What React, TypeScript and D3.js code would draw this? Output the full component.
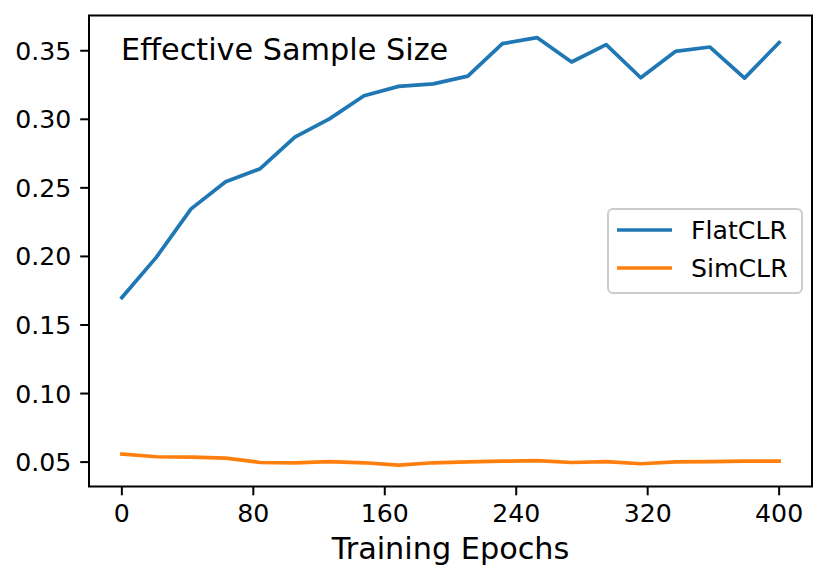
import React from "react";
import * as d3 from "d3";

const epochs: number[] = d3.range(20).map((i) => (400 * i) / 19);
const flatCLR: number[] = [
  0.1700, 0.1995, 0.2347, 0.2545, 0.2640, 0.2870, 0.3003, 0.3172, 0.3240, 0.3258,
  0.3315, 0.3552, 0.3596, 0.3418, 0.3545, 0.3303, 0.3495, 0.3527, 0.3300, 0.3560,
];
const simCLR: number[] = [
  0.0558, 0.0539, 0.0536, 0.0529, 0.0497, 0.0495, 0.0504, 0.0495, 0.0478, 0.0495,
  0.0502, 0.0507, 0.0510, 0.0497, 0.0504, 0.0488, 0.0502, 0.0504, 0.0507, 0.0507,
];
const xTicks: number[] = [0, 80, 160, 240, 320, 400];
const yTicks: number[] = [0.05, 0.1, 0.15, 0.2, 0.25, 0.3, 0.35];
const seriesNames: string[] = ["FlatCLR", "SimCLR"];
const seriesColors: string[] = ["#1f77b4", "#ff7f0e"];
const title = "Effective Sample Size";
const xLabel = "Training Epochs";

const W = 830;
const H = 581;
const L = 89, R = 812, T = 15.5, B = 486.5;
const FONT = "'DejaVu Sans', sans-serif";

export default function App() {
  const x = d3.scaleLinear().domain([-20, 420]).range([L, R]);
  const yMin = 0.0322, yMax = 0.3757;
  const y = d3.scaleLinear().domain([yMin, yMax]).range([B, T]);
  const line = d3
    .line<number>()
    .x((_, i) => x(epochs[i]))
    .y((d) => y(d));
  const series = [flatCLR, simCLR];
  const tickLen = 8.8;
  const sw = 2;
  const fsTick = 25.2;
  const fsLabel = 30.3;

  return (
    <svg
      width={W}
      height={H}
      style={{ position: "absolute", left: 0, top: 0, background: "#fff" }}
      fontFamily={FONT}
    >
      <rect x={0} y={0} width={W} height={H} fill="#fff" />
      {series.map((s, k) => (
        <path
          key={k}
          d={line(s) || ""}
          fill="none"
          stroke={seriesColors[k]}
          strokeWidth={3.7}
          strokeLinejoin="round"
          strokeLinecap="square"
        />
      ))}
      {xTicks.map((t) => (
        <g key={"x" + t}>
          <line x1={x(t)} x2={x(t)} y1={B} y2={B + tickLen} stroke="#000" strokeWidth={sw} />
          <text x={x(t)} y={522} textAnchor="middle" fontSize={fsTick} fill="#000">
            {t}
          </text>
        </g>
      ))}
      {yTicks.map((t) => (
        <g key={"y" + t}>
          <line x1={L - tickLen} x2={L} y1={y(t)} y2={y(t)} stroke="#000" strokeWidth={sw} />
          <text
            x={L - tickLen - 8.8}
            y={y(t)}
            dy="0.36em"
            textAnchor="end"
            fontSize={fsTick}
            fill="#000"
          >
            {t.toFixed(2)}
          </text>
        </g>
      ))}
      <rect x={L} y={T} width={R - L} height={B - T} fill="none" stroke="#000" strokeWidth={sw} />
      <text x={121} y={60} fontSize={fsLabel} fill="#000">
        {title}
      </text>
      <text x={(L + R) / 2} y={558.5} textAnchor="middle" fontSize={fsLabel} fill="#000">
        {xLabel}
      </text>
      <g>
        <rect
          x={608}
          y={209}
          width={194}
          height={84}
          rx={5}
          ry={5}
          fill="#fff"
          fillOpacity={0.8}
          stroke="#cccccc"
          strokeWidth={2}
        />
        {seriesNames.map((n, k) => (
          <g key={n}>
            <line
              x1={617}
              x2={672}
              y1={230 + k * 38}
              y2={230 + k * 38}
              stroke={seriesColors[k]}
              strokeWidth={3.7}
            />
            <text x={691} y={238.5 + k * 38} fontSize={fsTick} fill="#000">
              {n}
            </text>
          </g>
        ))}
      </g>
    </svg>
  );
}
